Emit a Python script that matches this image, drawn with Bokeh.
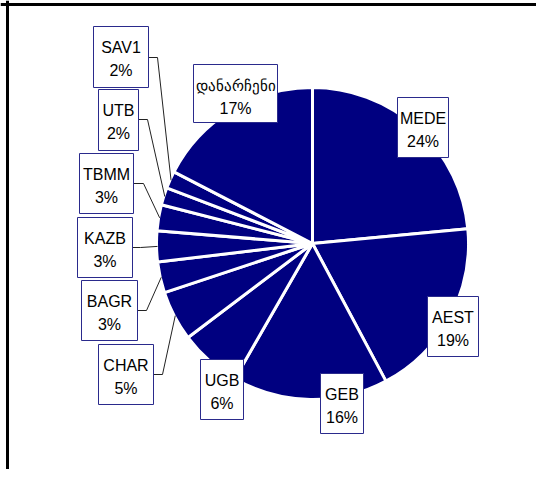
import math
from bokeh.plotting import figure
from bokeh.models import Range1d, Span, ColumnDataSource
from bokeh.core.properties import value
from bokeh.embed import file_html
from bokeh.resources import INLINE

# ---- data (clockwise from 12 o'clock) ----
categories = ["MEDE", "AEST", "GEB", "UGB", "CHAR", "BAGR", "KAZB", "TBMM", "UTB", "SAV1", "დანარჩენი"]
shares = [23.5, 18.7, 16.1, 6.4, 5.2, 3.2, 3.2, 2.7, 1.8, 1.8, 17.4]

# ---- layout (picture pixels) ----
CX, CY, R = 312, 243, 156
# label boxes: left, top, right, bottom
boxes = {
    "MEDE": (397, 97, 448, 157),
    "AEST": (427, 296, 478, 356),
    "GEB": (320, 373, 363, 433),
    "UGB": (200, 359, 243, 419),
    "CHAR": (98, 344, 153, 404),
    "BAGR": (81, 280, 137, 340),
    "KAZB": (77, 217, 132, 277),
    "TBMM": (79, 153, 133, 213),
    "UTB": (98, 89, 138, 150),
    "SAV1": (93, 26, 148, 87),
    "დანარჩენი": (193, 64, 277, 122),
}
# leader lines: (start x, start y, elbow x) -> end on slice edge
leaders = {
    "SAV1": (148, 57, 157),
    "UTB": (138, 119, 147),
    "TBMM": (133, 183, 143),
    "KAZB": (132, 247, 140),
    "BAGR": (137, 310, 146),
    "CHAR": (153, 374, 162),
}

W, H = 536, 469
def Y(py):
    return H - py

p = figure(width=W, height=H, x_range=Range1d(0, W), y_range=Range1d(0, H),
           output_backend="svg", toolbar_location=None, min_border=0,
           x_axis_type=None, y_axis_type=None)
p.grid.visible = False
p.outline_line_color = None
p.background_fill_color = "white"

total = sum(shares)
starts, ends, mids = [], [], []
cum = 0.0
for s in shares:
    c0 = cum / total
    cum += s
    c1 = cum / total
    starts.append(math.pi / 2 - 2 * math.pi * c1)
    ends.append(math.pi / 2 - 2 * math.pi * c0)
    mids.append(math.pi / 2 - 2 * math.pi * (c0 + c1) / 2)

src = ColumnDataSource(dict(cat=categories, start=starts, end=ends))
p.wedge(x=CX, y=Y(CY), radius=R, start_angle="start", end_angle="end",
        fill_color="#000080", line_color="white", line_width=3, source=src)

# leader lines
xs, ys = [], []
for i, cat in enumerate(categories):
    if cat in leaders:
        sx, sy, ex = leaders[cat]
        endx = CX + (R - 1) * math.cos(mids[i])
        endy = Y(CY) + (R - 1) * math.sin(mids[i])
        xs.append([sx, ex, endx])
        ys.append([Y(sy), Y(sy), endy])
p.multi_line(xs, ys, line_color="#222222", line_width=1)

# label boxes
lefts, rights, tops, bottoms = [], [], [], []
tx, ty1, ty2, t1, t2, fs1 = [], [], [], [], [], []
for i, cat in enumerate(categories):
    l, t, r, b = boxes[cat]
    lefts.append(l); rights.append(r); tops.append(Y(t)); bottoms.append(Y(b))
    tx.append((l + r) / 2)
    ty1.append(Y(t + 21))
    ty2.append(Y(t + 44))
    t1.append(cat)
    fs1.append("15px" if cat.isascii() is False else "16px")
    t2.append(f"{round(shares[i] / total * 100)}%")

p.quad(left=lefts, right=rights, top=tops, bottom=bottoms,
       fill_color="white", line_color="#2a2a8c", line_width=1)
lab = ColumnDataSource(dict(x=tx, y1=ty1, y2=ty2, t1=t1, t2=t2, fs1=fs1))
p.text(x="x", y="y1", text="t1", text_font=value("Liberation Sans"), text_font_size="fs1",
       text_align="center", text_baseline="alphabetic", text_color="black", source=lab)
p.text(x="x", y="y2", text="t2", text_font=value("Liberation Sans"), text_font_size="16px",
       text_align="center", text_baseline="alphabetic", text_color="black", source=lab)

# chart frame (top and left edges visible)
p.add_layout(Span(location=Y(4), dimension="width", line_color="black", line_width=3))
p.add_layout(Span(location=7, dimension="height", line_color="black", line_width=3))

open("out.html", "w").write(file_html(p, INLINE))
